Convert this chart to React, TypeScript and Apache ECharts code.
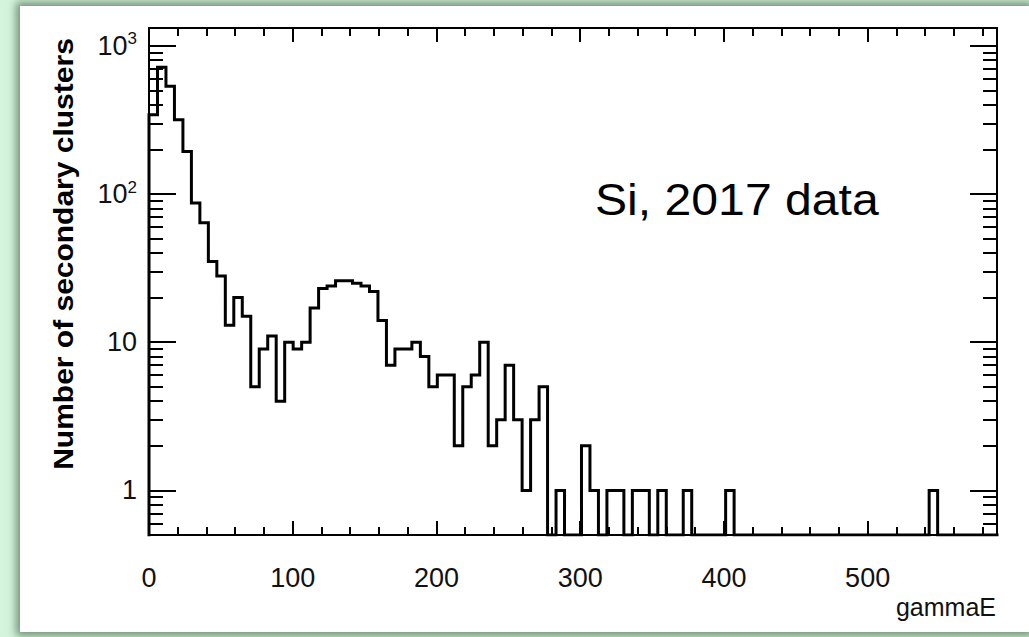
import React, { useEffect, useRef } from "react";
import * as echarts from "echarts";

// ---- data ----
const BIN_WIDTH = 5.9;
const X_MIN = 0;
const X_MAX = 590;
const Y_MIN = 0.5;
const Y_MAX = 1320;

const counts = [
  343, 717, 534, 317, 194, 87, 64, 35, 28, 13,
  20, 15, 5, 9, 11, 4, 10, 9, 10, 17,
  23, 24, 26, 26, 25, 24, 22, 14, 7, 9,
  9, 10, 8, 5, 6, 6, 2, 5, 6, 10,
  2, 3, 7, 3, 1, 3, 5, 0, 1, 0,
  0, 2, 1, 0, 1, 1, 0, 1, 1, 0,
  1, 0, 0, 1, 0, 0, 0, 0, 1, 0,
  0, 0, 0, 0, 0, 0, 0, 0, 0, 0,
  0, 0, 0, 0, 0, 0, 0, 0, 0, 0,
  0, 0, 1, 0, 0, 0, 0, 0, 0, 0,
];

const xMajorTicks = [0, 100, 200, 300, 400, 500];
const xMinorTicks = [
  20, 40, 60, 80, 120, 140, 160, 180, 220, 240, 260, 280,
  320, 340, 360, 380, 420, 440, 460, 480, 520, 540, 560, 580,
];
const yMajorTicks = [1, 10, 100, 1000];
const yMinorTicks = [
  0.6, 0.7, 0.8, 0.9,
  2, 3, 4, 5, 6, 7, 8, 9,
  20, 30, 40, 50, 60, 70, 80, 90,
  200, 300, 400, 500, 600, 700, 800, 900,
];

const xTitle = "gammaE";
const yTitle = "Number of secondary clusters";
const annotation = "Si, 2017 data";

const FONT = '"Liberation Sans", Arial, Helvetica, sans-serif';

function buildOutline(): [number, number][] {
  const pts: [number, number][] = [[X_MIN, Y_MIN]];
  counts.forEach((c, i) => {
    const v = c > 0 ? c : Y_MIN;
    pts.push([i * BIN_WIDTH, v]);
    pts.push([(i + 1) * BIN_WIDTH, v]);
  });
  pts.push([X_MAX, Y_MIN]);
  return pts;
}

function yLabel(v: number): string {
  const e = Math.round(Math.log10(v));
  if (e === 0) return "1";
  if (e === 1) return "10";
  return "{a|10}{s|" + e + "}";
}

export default function App() {
  const ref = useRef<HTMLDivElement>(null);

  useEffect(() => {
    if (!ref.current) return;
    const chart = echarts.init(ref.current, undefined, { renderer: "svg" });

    const line = { color: "#000", width: 2 };
    const xAx = (pos: string, major: boolean, labels: boolean) => ({
      type: "value",
      min: X_MIN,
      max: X_MAX,
      position: pos,
      axisLine: { show: major, onZero: false, lineStyle: line },
      axisTick: {
        show: true,
        inside: true,
        length: major ? 14 : 8,
        customValues: major ? xMajorTicks : xMinorTicks,
        lineStyle: line,
      },
      axisLabel: {
        show: labels,
        customValues: xMajorTicks,
        margin: 29,
        fontSize: 27,
        fontFamily: FONT,
        color: "#111",
      },
      splitLine: { show: false },
    });
    const yAx = (pos: string, major: boolean, labels: boolean) => ({
      type: "log",
      logBase: 10,
      min: Y_MIN,
      max: Y_MAX,
      position: pos,
      axisLine: { show: major, onZero: false, lineStyle: line },
      axisTick: {
        show: true,
        inside: true,
        length: major ? 27 : 14,
        customValues: major ? yMajorTicks : yMinorTicks,
        lineStyle: line,
      },
      axisLabel: {
        show: labels,
        customValues: yMajorTicks,
        margin: 12,
        fontSize: 27,
        fontFamily: FONT,
        color: "#111",
        formatter: yLabel,
        rich: {
          a: { fontSize: 27, fontFamily: FONT, color: "#111" },
          s: {
            fontSize: 17,
            fontFamily: FONT,
            color: "#111",
            verticalAlign: "top",
            padding: [0, 0, 14, 0],
          },
        },
      },
      splitLine: { show: false },
    });

    chart.setOption({
      animation: false,
      backgroundColor: "transparent",
      grid: { left: 149, right: 32, top: 28, bottom: 102, containLabel: false },
      xAxis: [
        xAx("bottom", true, true),
        xAx("bottom", false, false),
        xAx("top", true, false),
        xAx("top", false, false),
      ],
      yAxis: [
        yAx("left", true, true),
        yAx("left", false, false),
        yAx("right", true, false),
        yAx("right", false, false),
      ],
      series: [
        {
          type: "line",
          xAxisIndex: 0,
          yAxisIndex: 0,
          data: buildOutline(),
          symbol: "none",
          clip: true,
          lineStyle: { color: "#000", width: 3, join: "miter", cap: "square" },
          z: 3,
        },
      ],
      graphic: [
        {
          type: "text",
          x: 63,
          y: 254,
          rotation: Math.PI / 2,
          scaleY: 0.92,
          style: {
            text: yTitle,
            fontSize: 30,
            fontWeight: "bold",
            fontFamily: FONT,
            fill: "#000",
            align: "center",
            verticalAlign: "middle",
          },
        },
        {
          type: "text",
          x: 595,
          y: 200,
          scaleX: 1.07,
          style: {
            text: annotation,
            fontSize: 45,
            fontFamily: FONT,
            fill: "#000",
            align: "left",
            verticalAlign: "middle",
          },
        },
        {
          type: "text",
          x: 996,
          y: 607,
          style: {
            text: xTitle,
            fontSize: 25,
            fontFamily: FONT,
            fill: "#111",
            align: "right",
            verticalAlign: "middle",
          },
        },
      ],
    });

    return () => chart.dispose();
  }, []);

  return (
    <div
      style={{
        position: "fixed",
        left: 0,
        top: 0,
        width: 1029,
        height: 637,
        background: "#d4f4db",
        overflow: "hidden",
      }}
    >
      <div
        style={{
          position: "absolute",
          left: 20,
          top: 6,
          right: 0,
          bottom: 5,
          background: "#fff",
          boxShadow: "0 0 8px 4px #74947a",
        }}
      />
      <div
        ref={ref}
        style={{ position: "absolute", left: 0, top: 0, width: 1029, height: 637 }}
      />
    </div>
  );
}
